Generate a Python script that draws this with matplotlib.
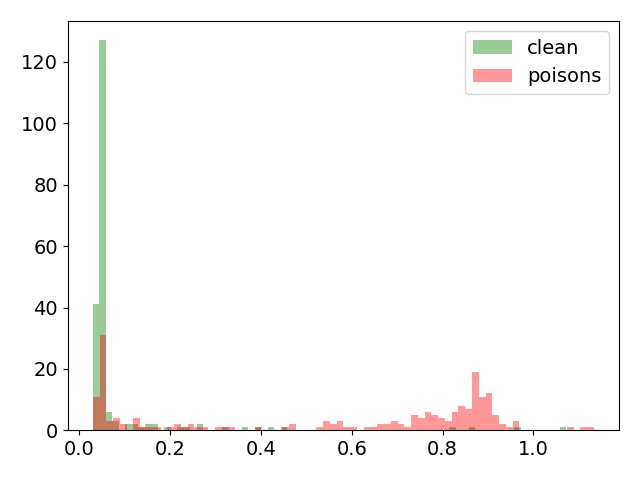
import numpy as np
import matplotlib
matplotlib.use("Agg")
import matplotlib.pyplot as plt

plt.rcParams['font.size'] = 14

# Histogram counts (per bin, left to right)
clean_counts = [41, 127, 6, 3, 0, 2, 2, 1, 2, 2,
                0, 1, 0, 1, 1, 0, 2, 0, 0, 0,
                1, 0, 0, 1, 0, 1, 0, 1, 0, 1,
                0, 0, 0, 0, 0, 0, 0, 0, 0, 0,
                0, 0, 0, 0, 0, 0, 0, 0, 0, 0,
                0, 0, 0, 0, 0, 1, 0, 0, 1, 0,
                0, 0, 0, 0, 0, 1, 0, 0, 0, 0,
                0, 0, 1]
clean_range = (0.0297, 1.0722)

poison_counts = [11, 31, 3, 4, 2, 0, 4, 1, 1, 1,
                 0, 1, 2, 1, 2, 1, 1, 0, 1, 1,
                 1, 0, 0, 0, 1, 0, 0, 0, 1, 2,
                 0, 0, 0, 1, 3, 2, 3, 1, 1, 0,
                 1, 1, 2, 2, 3, 2, 1, 5, 4, 6,
                 5, 4, 3, 6, 8, 7, 19, 11, 12, 5,
                 2, 1, 3, 0, 0, 0, 0, 0, 0, 0,
                 1, 0, 1, 1]
poison_range = (0.0297, 1.1332)

labels = ['clean', 'poisons']
colors = ['green', 'red']

fig, ax = plt.subplots(figsize=(6.4, 4.8), dpi=100)

for counts, rng, lab, col in [(clean_counts, clean_range, labels[0], colors[0]),
                              (poison_counts, poison_range, labels[1], colors[1])]:
    edges = np.linspace(rng[0], rng[1], len(counts) + 1)
    ax.hist(edges[:-1], bins=edges, weights=counts, color=col, alpha=0.4, label=lab)

ax.legend(loc='upper right')
fig.tight_layout()
fig.savefig('out.png', dpi=100)
